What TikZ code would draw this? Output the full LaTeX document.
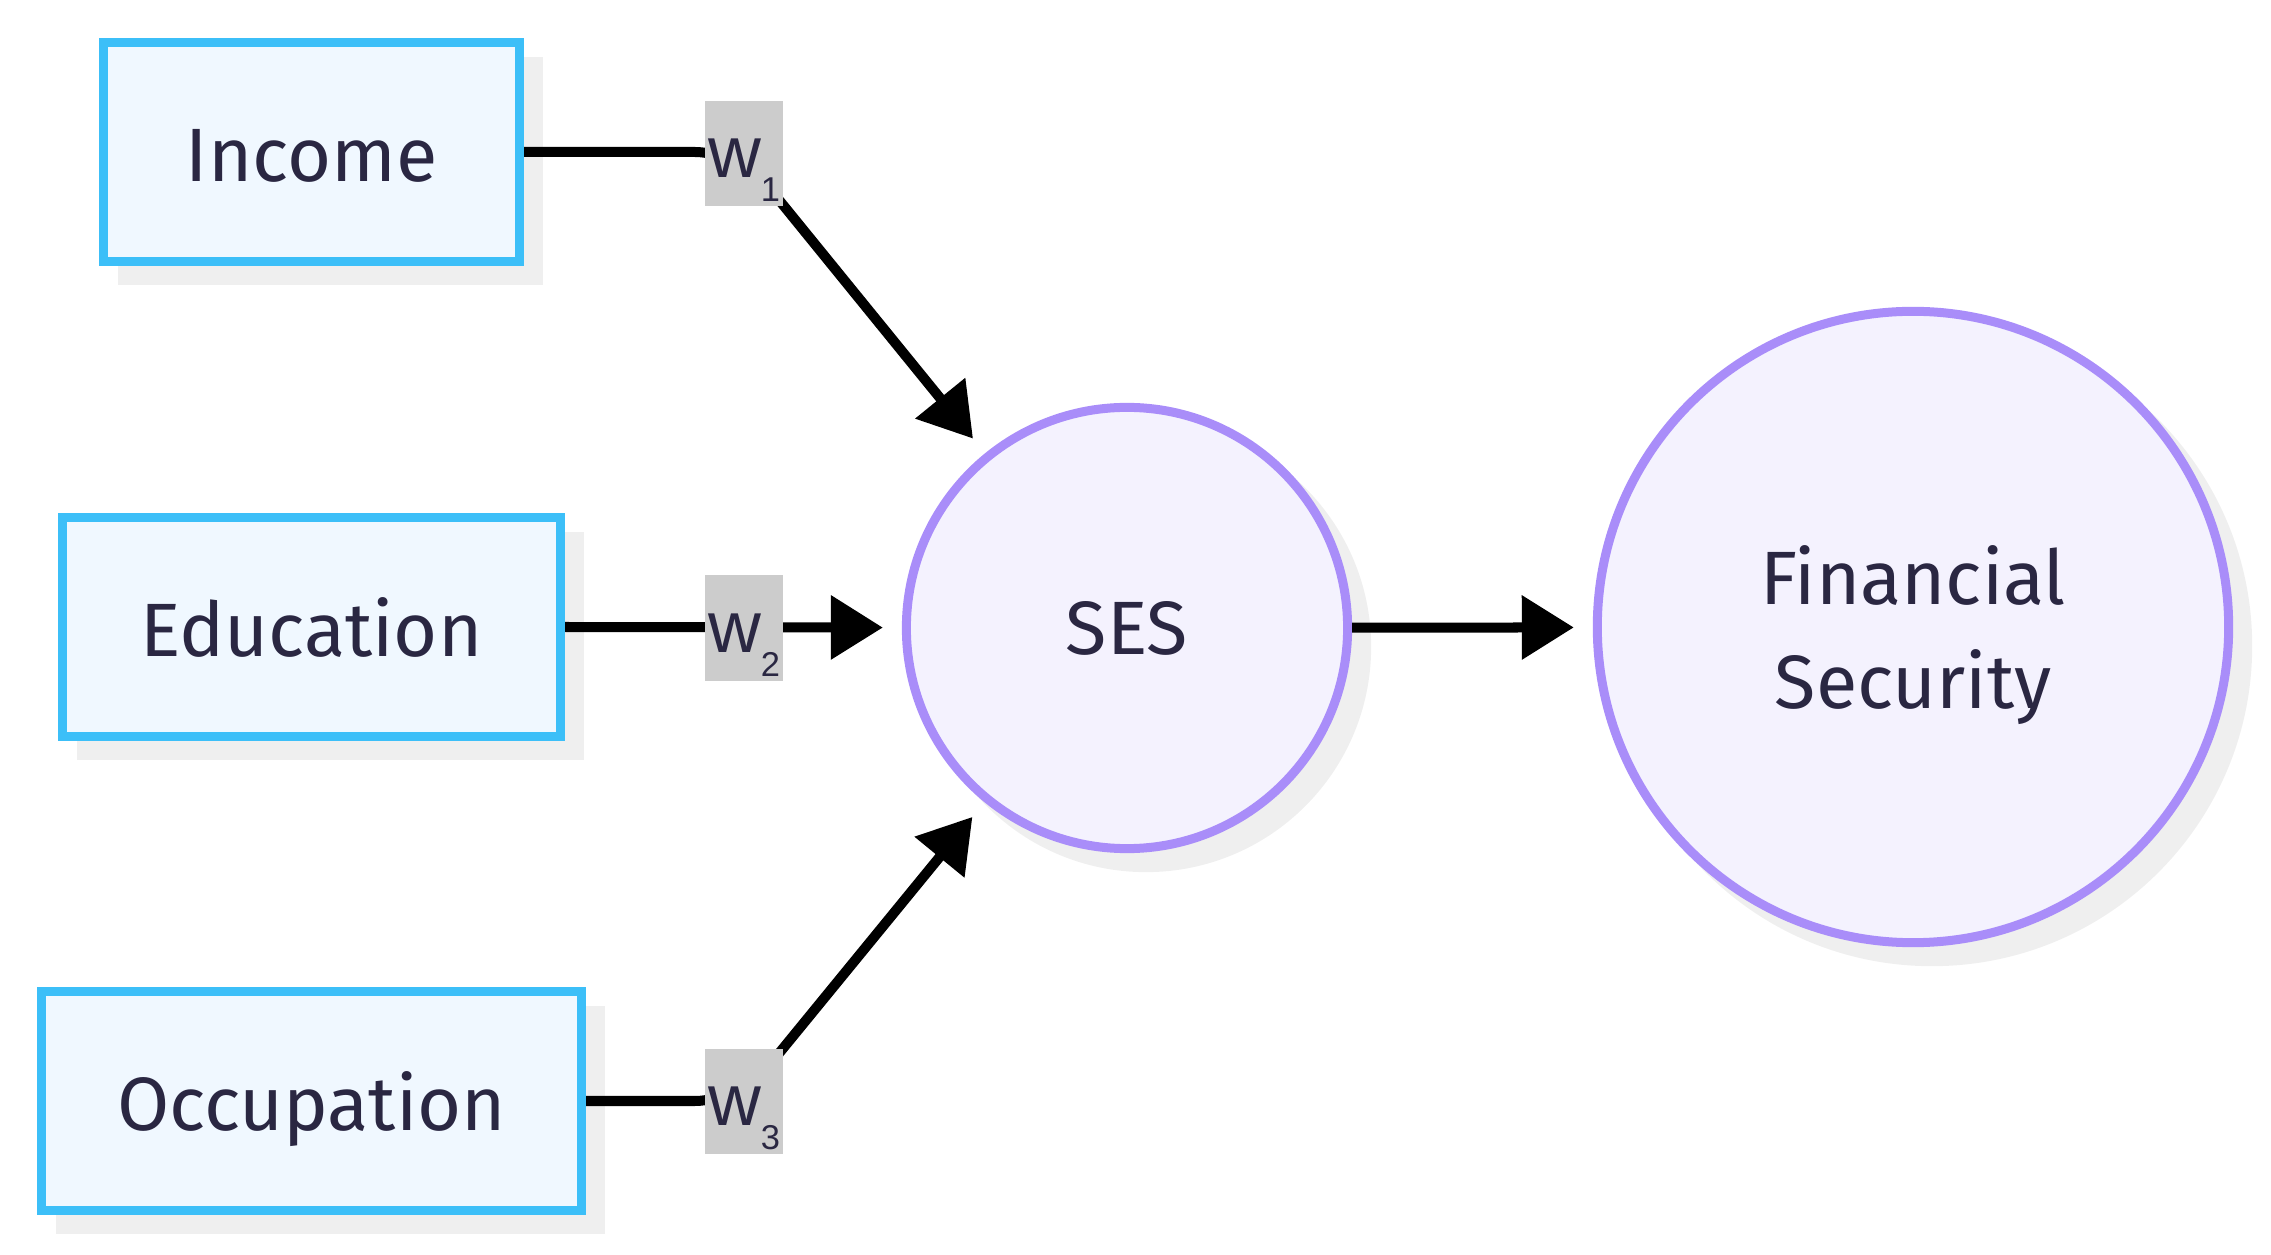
\documentclass[tikz,border=0pt]{standalone}
\usepackage{fontspec}
\setmainfont{Fira Sans}
\newfontfamily\labfont{Liberation Sans}
\usetikzlibrary{arrows.meta,shadows}
\definecolor{boxfill}{HTML}{F0F8FF}
\definecolor{boxline}{HTML}{3CBFF8}
\definecolor{circfill}{HTML}{F4F2FE}
\definecolor{circline}{HTML}{A98DF9}
\definecolor{shadowgray}{HTML}{EFEFEF}
\definecolor{txt}{HTML}{2A2742}
\definecolor{wgray}{HTML}{CCCCCC}
\newcommand\wlabel[1]{\raisebox{-0.17cm}[0.38cm][0.24cm]{\labfont\fontsize{20.8}{24}\selectfont w\raisebox{-0.24cm}{\fontsize{9.8}{11}\selectfont #1}}}
\begin{document}
\begin{tikzpicture}[x=0.01cm,y=-0.01cm,
  shadowed/.style={general shadow={fill=shadowgray, draw=shadowgray, line width=0.09cm, shadow xshift=0.19cm, shadow yshift=-0.19cm}},
  inbox/.style={shadowed, draw=boxline, fill=boxfill, line width=0.09cm, inner sep=0pt,
    text=txt, font=\fontsize{21.5}{26}\selectfont, minimum height=2.19cm,
    text height=0.7cm, text depth=0.12cm},
  latent/.style={shadowed, circle, draw=circline, fill=circfill, line width=0.09cm, inner sep=0pt,
    text=txt, font=\fontsize{21.5}{29.3}\selectfont, align=center},
  wlab/.style={fill=wgray, inner sep=0pt, minimum width=0.77cm, minimum height=1.05cm, text=txt},
  edge/.style={line width=0.1cm, black, -{Triangle[length=0.52cm,width=0.62cm]}, shorten >=0.19cm}
]
\useasboundingbox (0,0) rectangle (2271,1255);
\node[inbox, minimum width=4.16cm] (inc) at (311.5,152) {Income};
\node[inbox, minimum width=4.98cm] (edu) at (311.5,627) {Education};
\node[inbox, minimum width=5.40cm] (occ) at (311.5,1101) {Occupation};
\node[latent, minimum size=4.41cm] (ses) at (1127,628) {SES};
\node[latent, minimum size=6.31cm, text depth=0pt] (fs) at (1913,627) {Financial\\Security};
\coordinate (c1) at (740,152);
\coordinate (c3) at (740,1101);
\draw[edge, rounded corners=0.45cm] (inc.east) -- (c1) -- (ses);
\draw[edge] (edu.east) -- (ses);
\draw[edge, rounded corners=0.45cm] (occ.east) -- (c3) -- (ses);
\draw[edge] (ses) -- (fs);
\node[wlab] (w1) at (744,153.5) {\wlabel{1}};
\node[wlab] (w2) at (744,628) {\wlabel{2}};
\node[wlab] (w3) at (744,1101.5) {\wlabel{3}};
\end{tikzpicture}
\end{document}
